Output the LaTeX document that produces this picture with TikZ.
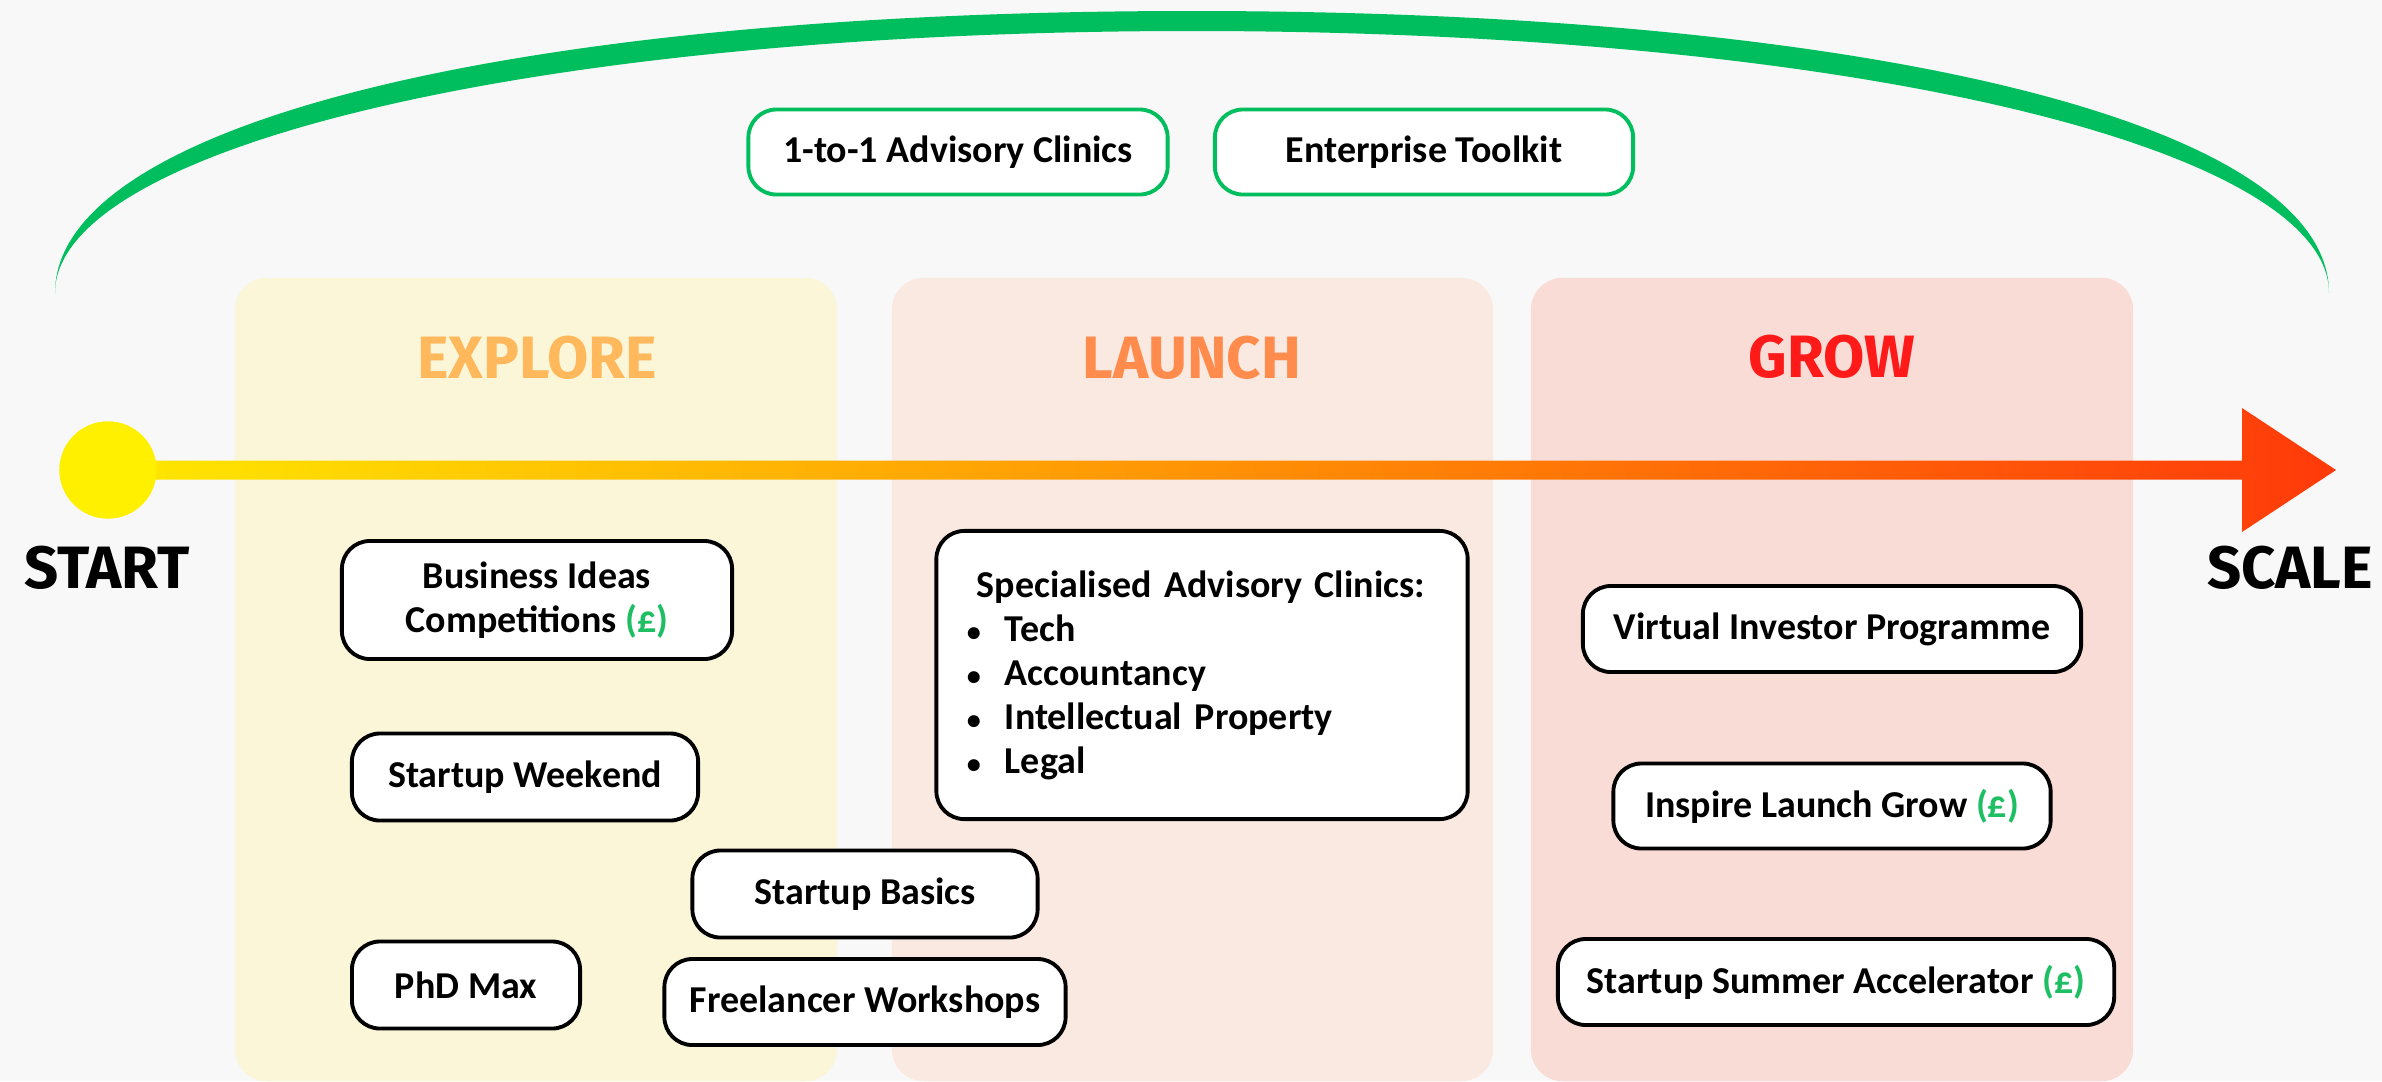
\documentclass[tikz,border=0pt]{standalone}
\usepackage{fontspec}
\setmainfont{Carlito}
\newfontfamily\titlefont{Fira Sans}
\usepackage{tikz}
\usetikzlibrary{calc}

\definecolor{bg}{HTML}{F8F8F8}
\definecolor{explorebg}{HTML}{FAF6D7}
\definecolor{launchbg}{HTML}{FAE9E0}
\definecolor{growbg}{HTML}{F9DCD5}
\definecolor{arcgreen}{HTML}{00BE5E}
\definecolor{money}{HTML}{1DBF62}
\definecolor{exploretxt}{HTML}{FFB85B}
\definecolor{launchtxt}{HTML}{FF8C4C}
\definecolor{growtxt}{HTML}{FF1A1A}
\definecolor{dotyellow}{HTML}{FFF000}
\definecolor{lineyellow}{HTML}{FFE800}
\definecolor{lineorange}{HTML}{FFA000}
\definecolor{linered}{HTML}{FF3A0A}

\newcommand{\cost}{{\color{money}(£)}}
\newcommand{\bul}{\makebox[0.38cm][l]{\fontsize{8}{8}\selectfont\textbullet}}

\begin{document}
\begin{tikzpicture}[x=0.01cm,y=-0.01cm,
    pnode/.style={draw=black,line width=1.1pt,fill=white,rounded corners=0.28cm,align=center,
        inner sep=0pt,font=\fontsize{10.8}{12.5}\selectfont\bfseries},
    gnode/.style={pnode,draw=arcgreen},
    panel/.style={rounded corners=0.32cm,inner sep=0pt,minimum height=8.03cm},
    stage/.style={font=\titlefont\bfseries\fontsize{17}{20}\selectfont},
    endtxt/.style={font=\titlefont\bfseries\fontsize{17}{20}\selectfont,text=black}]
    \fill[bg] (0,0) rectangle (2382,1081);
    \useasboundingbox (0,0) rectangle (2382,1081);

    \fill[arcgreen] (55,293) .. controls (55,124) and (510,11) .. (1192,11)
        .. controls (1874,11) and (2329,124) .. (2329,293)
        .. controls (2329,148) and (1852,31) .. (1192,31)
        .. controls (532,31) and (55,148) .. (55,293) -- cycle;

    \node[gnode,minimum width=4.19cm,minimum height=0.85cm] (adv) at (958,152) {1-to-1 Advisory Clinics};
    \node[gnode,minimum width=4.18cm,minimum height=0.85cm] (kit) at (1424,152) {Enterprise Toolkit};

    \node[panel,fill=explorebg,minimum width=6.02cm] (explore) at (536,679.5) {};
    \node[panel,fill=launchbg,minimum width=6.01cm] (launch) at (1192.5,679.5) {};
    \node[panel,fill=growbg,minimum width=6.02cm] (grow) at (1832,679.5) {};

    \node[stage,text=exploretxt] (t1) at (537,358) {EXPLORE};
    \node[stage,text=launchtxt] (t2) at (1192,358) {LAUNCH};
    \node[stage,text=growtxt] (t3) at (1832,357) {GROW};

    \node[circle,fill=dotyellow,minimum size=0.97cm,inner sep=0pt] (dot) at (108,470) {};
    \coordinate (tip) at (2336,470);
    \shade[left color=lineyellow,middle color=lineorange,right color=linered]
        ($(dot)+(0,-9.5)$) -- ($(tip)+(-94,-9.5)$) -- ($(tip)+(-94,-62)$) -- (tip)
        -- ($(tip)+(-94,62)$) -- ($(tip)+(-94,9.5)$) -- ($(dot)+(0,9.5)$) -- cycle;
    \node[circle,fill=dotyellow,minimum size=0.97cm,inner sep=0pt] at (dot) {};

    \node[endtxt] (start) at (107,568) {START};
    \node[endtxt] (scale) at (2290,568) {SCALE};

    \node[pnode,minimum width=3.90cm,minimum height=1.18cm] (ideas) at (537,600) {Business Ideas\\Competitions \cost};
    \node[pnode,minimum width=3.46cm,minimum height=0.87cm] (weekend) at (525,777) {Startup Weekend};
    \node[pnode,minimum width=3.45cm,minimum height=0.87cm] (basics) at (865,894) {Startup Basics};
    \node[pnode,minimum width=2.28cm,minimum height=0.87cm] (phd) at (466,985) {PhD Max};
    \node[pnode,minimum width=4.01cm,minimum height=0.86cm] (freelance) at (865,1002) {Freelancer Workshops};

    \node[pnode,minimum width=5.31cm,minimum height=2.88cm,text width=4.70cm,align=left] (clinics) at (1202,675)
        {\hspace*{0.10cm}Specialised Advisory Clinics:\\
         \bul Tech\\
         \bul Accountancy\\
         \bul Intellectual Property\\
         \bul Legal};

    \node[pnode,minimum width=4.98cm,minimum height=0.86cm] (investor) at (1832,629) {Virtual Investor Programme};
    \node[pnode,minimum width=4.37cm,minimum height=0.85cm] (ilg) at (1832,806) {Inspire Launch Grow \cost};
    \node[pnode,minimum width=5.56cm,minimum height=0.86cm] (summer) at (1836,982) {Startup Summer Accelerator \cost};
\end{tikzpicture}
\end{document}
